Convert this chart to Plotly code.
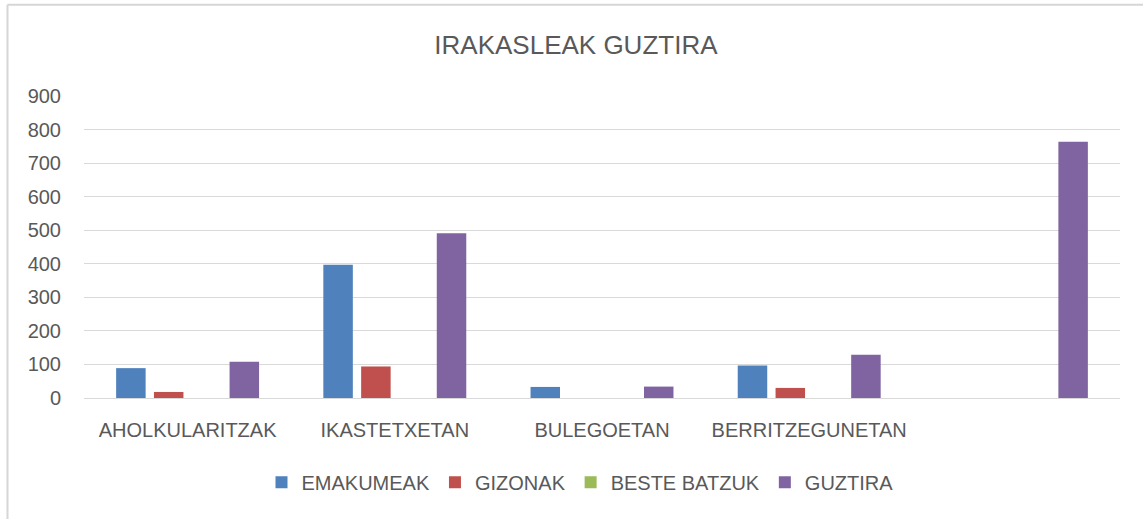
import plotly.graph_objects as go

categories = ["AHOLKULARITZAK", "IKASTETXETAN", "BULEGOETAN", "BERRITZEGUNETAN", " "]
emakumeak = [89, 397, 33, 97, 0]
gizonak = [18, 94, 0, 30, 0]
beste_batzuk = [0, 0, 0, 0, 0]
guztira = [108, 491, 34, 129, 764]
y_ticks = [0, 100, 200, 300, 400, 500, 600, 700, 800, 900]

series = [
    ("EMAKUMEAK", emakumeak, "#4F81BD"),
    ("GIZONAK", gizonak, "#C0504D"),
    ("BESTE BATZUK", beste_batzuk, "#9BBB59"),
    ("GUZTIRA", guztira, "#8064A2"),
]

W, H = 1143, 519
ml, mr, mt, mb = 84, 23, 96, 120.5
pw = W - ml - mr
ph = H - mt - mb

fig = go.Figure()
for name, vals, col in series:
    fig.add_trace(go.Bar(name=name, x=categories, y=vals, marker_color=col,
                         marker_line_width=0))

font = "Liberation Sans, Arial, sans-serif"
legend_y = -(483 - (H - mb)) / ph
fig.update_layout(
    width=W, height=H,
    margin=dict(l=ml, r=mr, t=mt, b=mb, pad=0, autoexpand=False),
    paper_bgcolor="white", plot_bgcolor="white",
    barmode="group", bargap=0.27, bargroupgap=0.22,
    title=dict(text="IRAKASLEAK GUZTIRA", x=0.5 + 4 / pw, xanchor="center",
               y=1 - 45 / H, yanchor="middle",
               font=dict(family=font, size=26, color="#595959")),
    font=dict(family=font, size=20, color="#595959"),
    showlegend=True,
    legend=dict(orientation="h", x=0.5 - 22 / pw, xanchor="center",
                y=legend_y, yanchor="middle",
                font=dict(size=20, color="#595959"),
                itemwidth=30, traceorder="normal"),
    xaxis=dict(showgrid=False, showline=True, linecolor="#D9D9D9", linewidth=1,
               ticks="", tickfont=dict(size=20, color="#595959"),
               ticklabelstandoff=14),
    yaxis=dict(range=[0, 900], tickvals=y_ticks, showgrid=True,
               gridcolor="#D9D9D9", gridwidth=1, zeroline=False,
               showline=False, ticks="", tickfont=dict(size=20, color="#595959"),
               ticklabelstandoff=22),
)

# outer chart border (light grey), partly cropped like the reference
bx0 = (7.5 - ml) / pw
bx1 = (W + 5 - ml) / pw
by0 = -(H + 5 - (H - mb)) / ph
by1 = 1 + (mt - 4.5) / ph
for (x0, y0, x1, y1) in [(bx0, by1, bx1, by1), (bx0, by0, bx0, by1)]:
    fig.add_shape(type="line", xref="paper", yref="paper",
                  x0=x0, y0=y0, x1=x1, y1=y1,
                  line=dict(color="#D6D6D6", width=2), layer="above")

fig.write_html("out.html", config={"displayModeBar": False},
               post_script="document.body.style.margin='0px';document.body.style.overflow='hidden';")
